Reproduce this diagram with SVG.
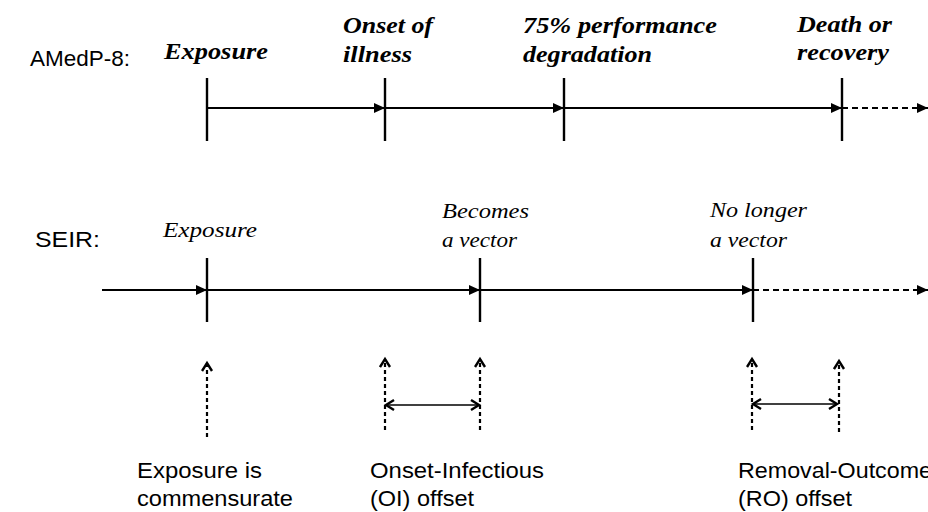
<svg xmlns="http://www.w3.org/2000/svg" width="928" height="512" viewBox="0 0 928 512">
<style>
.sans{font-family:"Liberation Sans",Arial,sans-serif;font-size:22px;fill:#000}
.bi{font-family:"Liberation Serif","Times New Roman",serif;font-size:24px;font-weight:bold;font-style:italic;fill:#000}
.it{font-family:"Liberation Serif","Times New Roman",serif;font-size:22px;font-style:italic;fill:#000}
.tick{stroke:#000;stroke-width:2.4;fill:none}
.tl{stroke:#000;stroke-width:2.2;fill:none}
.tl2{stroke:#000;stroke-width:1.8;fill:none}
.dash{stroke-dasharray:6 4}
.vdash{stroke:#000;stroke-width:2.2;fill:none;stroke-dasharray:4 3}
.dbl{stroke:#000;stroke-width:1.6;fill:none}
</style>
<defs>
<marker id="fa" markerUnits="userSpaceOnUse" markerWidth="14" markerHeight="12" refX="11" refY="5" orient="auto"><path d="M0,0 L11,5 L0,10 z" fill="#000"/></marker>
<marker id="oa" markerUnits="userSpaceOnUse" markerWidth="13" markerHeight="14" refX="9" refY="6" orient="auto-start-reverse"><path d="M1,1 L9,6 L1,11" fill="none" stroke="#000" stroke-width="2.4"/></marker>
</defs>

<g id="row-labels">
<text class="sans" x="30" y="66" textLength="100" lengthAdjust="spacingAndGlyphs">AMedP-8:</text>
<text class="sans" x="35" y="247" textLength="65" lengthAdjust="spacingAndGlyphs">SEIR:</text>
</g>

<g id="a-exposure">
<line class="tick" x1="207" y1="78" x2="207" y2="141"/>
<text class="bi" x="164" y="59" textLength="104" lengthAdjust="spacingAndGlyphs">Exposure</text>
</g>
<g id="a-onset">
<line class="tick" x1="385" y1="78" x2="385" y2="141"/>
<text class="bi" x="343" y="33" textLength="90" lengthAdjust="spacingAndGlyphs">Onset of</text>
<text class="bi" x="343" y="62" textLength="69" lengthAdjust="spacingAndGlyphs">illness</text>
</g>
<g id="a-75">
<line class="tick" x1="564" y1="78" x2="564" y2="141"/>
<text class="bi" x="523" y="33" textLength="194" lengthAdjust="spacingAndGlyphs">75% performance</text>
<text class="bi" x="523" y="62" textLength="129" lengthAdjust="spacingAndGlyphs">degradation</text>
</g>
<g id="a-death">
<line class="tick" x1="842" y1="78" x2="842" y2="141"/>
<text class="bi" x="797" y="32" textLength="95" lengthAdjust="spacingAndGlyphs">Death or</text>
<text class="bi" x="797" y="60" textLength="92" lengthAdjust="spacingAndGlyphs">recovery</text>
</g>

<g id="s-exposure">
<line class="tick" x1="207" y1="258" x2="207" y2="322"/>
<text class="it" x="163" y="237" textLength="94" lengthAdjust="spacingAndGlyphs">Exposure</text>
</g>
<g id="s-becomes">
<line class="tick" x1="480" y1="258" x2="480" y2="322"/>
<text class="it" x="442" y="218" textLength="87" lengthAdjust="spacingAndGlyphs">Becomes</text>
<text class="it" x="442" y="247" textLength="75" lengthAdjust="spacingAndGlyphs">a vector</text>
</g>
<g id="s-nolonger">
<line class="tick" x1="753" y1="258" x2="753" y2="322"/>
<text class="it" x="710" y="217" textLength="97" lengthAdjust="spacingAndGlyphs">No longer</text>
<text class="it" x="710" y="247" textLength="77" lengthAdjust="spacingAndGlyphs">a vector</text>
</g>

<g id="b-exposure">
<text class="sans" x="137" y="478" textLength="125" lengthAdjust="spacingAndGlyphs">Exposure is</text>
<text class="sans" x="137" y="506" textLength="156" lengthAdjust="spacingAndGlyphs">commensurate</text>
</g>
<g id="b-oi">
<text class="sans" x="370" y="478" textLength="174" lengthAdjust="spacingAndGlyphs">Onset-Infectious</text>
<text class="sans" x="370" y="506" textLength="104" lengthAdjust="spacingAndGlyphs">(OI) offset</text>
</g>
<g id="b-ro">
<text class="sans" x="738" y="478" textLength="194" lengthAdjust="spacingAndGlyphs">Removal-Outcome</text>
<text class="sans" x="738" y="506" textLength="114" lengthAdjust="spacingAndGlyphs">(RO) offset</text>
</g>

<g id="connectors">
<line class="tl" x1="207" y1="108" x2="385" y2="108" marker-end="url(#fa)"/>
<line class="tl" x1="385" y1="108" x2="564" y2="108" marker-end="url(#fa)"/>
<line class="tl" x1="564" y1="108" x2="842" y2="108" marker-end="url(#fa)"/>
<line class="tl dash" x1="842" y1="108" x2="928" y2="108" marker-end="url(#fa)"/>

<line class="tl2" x1="102" y1="290" x2="207" y2="290" marker-end="url(#fa)"/>
<line class="tl2" x1="207" y1="290" x2="480" y2="290" marker-end="url(#fa)"/>
<line class="tl2" x1="480" y1="290" x2="753" y2="290" marker-end="url(#fa)"/>
<line class="tl2 dash" x1="753" y1="290" x2="928" y2="290" marker-end="url(#fa)"/>

<line class="vdash" x1="207" y1="437" x2="207" y2="363" marker-end="url(#oa)"/>
<line class="vdash" x1="385" y1="430" x2="385" y2="359" marker-end="url(#oa)"/>
<line class="vdash" x1="480" y1="430" x2="480" y2="359" marker-end="url(#oa)"/>
<line class="vdash" x1="752" y1="430" x2="752" y2="359" marker-end="url(#oa)"/>
<line class="vdash" x1="839" y1="432" x2="839" y2="361" marker-end="url(#oa)"/>

<line class="dbl" x1="386" y1="405" x2="479" y2="405" marker-start="url(#oa)" marker-end="url(#oa)"/>
<line class="dbl" x1="753" y1="404" x2="837" y2="404" marker-start="url(#oa)" marker-end="url(#oa)"/>
</g>
</svg>
